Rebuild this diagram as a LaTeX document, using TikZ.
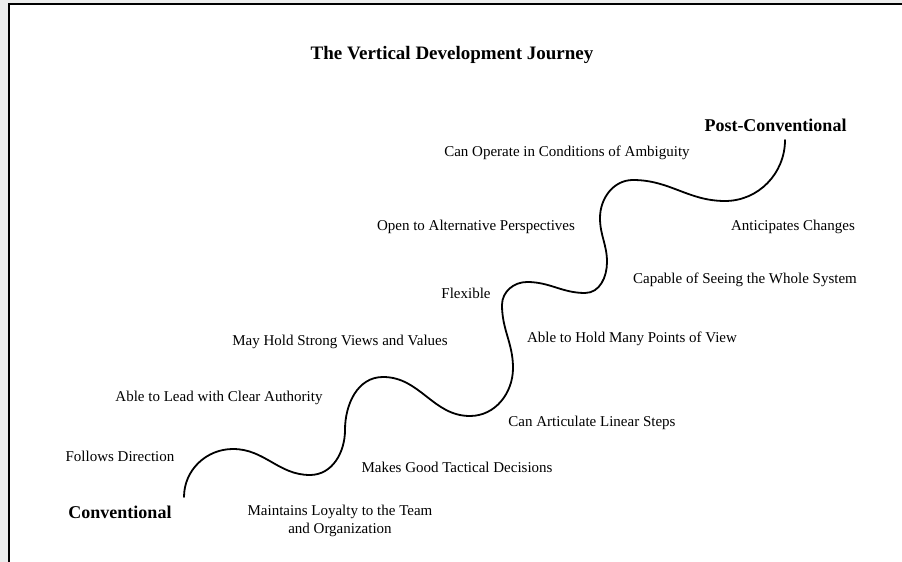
\documentclass[tikz,border=0pt]{standalone}
\usepackage{fontspec}
\setmainfont{Liberation Serif}
\definecolor{pagegray}{RGB}{236,237,237}
\tikzset{
	stage/.style={inner sep=0pt, font=\bfseries\fontsize{18}{22}\selectfont},
	trait/.style={inner sep=0pt, align=center, font=\fontsize{15}{18}\selectfont},
	journey/.style={line width=1.8pt, line cap=round}
}
\begin{document}
\begin{tikzpicture}[x=1pt,y=1pt]
		\useasboundingbox (0,0) rectangle (902,562);
		% frame
		\fill[pagegray] (0,0) rectangle (902,562);
		\fill[white] (9.3,-2) rectangle (904,557.7);
		\draw[line width=2pt] (9.3,-2) -- (9.3,557.7) -- (904,557.7);
		
		% title
		\node[stage, font=\bfseries\fontsize{19}{23}\selectfont] (title) at (452,507) {The Vertical Development Journey};
		
		% path
		\draw[journey] (184,65) to[out=90,in=180] (233,113)
			to[out=0,in=180] (310,87)
			to[out=0,in=-90] (345,132) to[out=90,in=180] (383,185)
			to[out=0,in=180] (470,146)
			to[out=0,in=-90] (513,194) to[out=90,in=-90] (502,257) to[out=90,in=180] (527,280)
			to[out=0,in=180] (585,269)
			to[out=0,in=-90] (607,300) to[out=90,in=-90] (600,344) to[out=90,in=180] (633,382)
			to[out=0,in=180] (725,361)
			to[out=0,in=-90] (785,422);
		
		% stages
		\node[stage] (conv) at (120,50) {Conventional};
		\node[stage] (post) at (775.5,437) {Post-Conventional};
		
		% traits
		\node[trait] (follows) at (120,106) {Follows Direction};
		\node[trait] (loyalty) at (340,41) {Maintains Loyalty to the Team\\and Organization};
		\node[trait] (tactical) at (457,95) {Makes Good Tactical Decisions};
		\node[trait] (lead) at (219,164) {Able to Lead with Clear Authority};
		\node[trait] (steps) at (592,139) {Can Articulate Linear Steps};
		\node[trait] (strong) at (340,220) {May Hold Strong Views and Values};
		\node[trait] (manyviews) at (632,223) {Able to Hold Many Points of View};
		\node[trait] (flex) at (466,269) {Flexible};
		\node[trait] (system) at (745,282) {Capable of Seeing the Whole System};
		\node[trait] (persp) at (476,335) {Open to Alternative Perspectives};
		\node[trait] (antic) at (793,335) {Anticipates Changes};
		\node[trait] (ambig) at (567,409) {Can Operate in Conditions of Ambiguity};
\end{tikzpicture}
\end{document}
